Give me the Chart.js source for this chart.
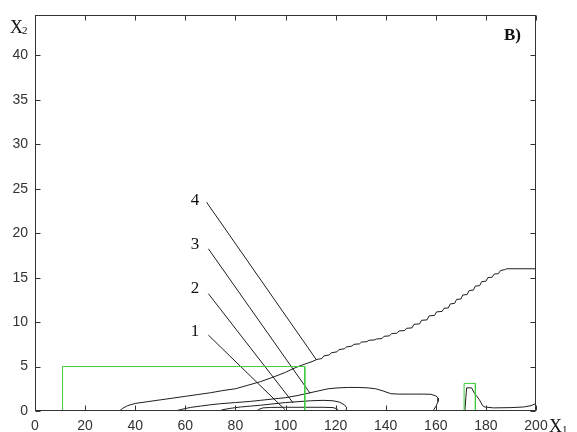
<!DOCTYPE html>
<html lang="ru">

<head>
    <meta charset="UTF-8">
    <title>Contours</title>
    <script src="https://cdn.jsdelivr.net/npm/chart.js"></script>
    <style>
        body { margin: 0; background: #fff; }
        canvas { display: block; }
    </style>
</head>

<body>
    <canvas id="contourChart" width="577" height="432"></canvas>
    <script>
        // tick labels
        const xTicks = [0, 20, 40, 60, 80, 100, 120, 140, 160, 180, 200];
        const yTicks = [0, 5, 10, 15, 20, 25, 30, 35, 40];

        // contour 1 (innermost)
        const c1X = [88.5, 89.5, 91, 94, 100, 108, 115, 119, 120.5, 121];
        const c1Y = [0, 0.2, 0.35, 0.4, 0.42, 0.42, 0.42, 0.38, 0.25, 0];

        // contour 2
        const c2X = [73.5, 75, 78, 82, 86, 90, 95, 100, 105, 110, 115, 119, 121.5, 123.5, 124.5, 124];
        const c2Y = [0, 0.15, 0.3, 0.45, 0.55, 0.65, 0.8, 0.95, 1.05, 1.15, 1.2, 1.15, 1.0, 0.7, 0.35, 0];

        // contour 3
        const c3X = [56, 58, 62, 66, 70, 74, 80, 86, 90, 95, 100, 105, 109, 113, 117, 121, 125, 129, 133, 136, 139, 142, 145, 150, 155, 158, 160, 161, 160.9, 160.2, 159.2, 158.8];
        const c3Y = [0, 0.15, 0.4, 0.55, 0.7, 0.82, 0.95, 1.08, 1.2, 1.35, 1.5, 1.75, 2.0, 2.25, 2.5, 2.6, 2.65, 2.65, 2.6, 2.5, 2.25, 1.95, 1.9, 1.9, 1.9, 1.88, 1.7, 1.45, 1.07, 0.6, 0.15, 0];

        // contour 4 (outer, stepped edge)
        const c4X = [33.7, 35, 37, 40, 45, 50, 55, 60, 65, 70, 75, 80, 85, 90, 95, 100, 103, 105, 107, 109, 111, 112.5,
            114.5, 115.3, 117.5, 118.3, 120.5, 121.3, 123.5, 124.3, 126.5, 127.3, 129.5, 130.3, 132.5, 133.3, 135.5, 136.3, 138.5,
            139.3, 141.5, 142.3, 144.5, 145.3, 147.5, 148.3, 150.5,
            151.3, 153.5, 154.3, 156.5, 157.3, 159.5, 160.3, 162.5, 163.3,
            165, 165.8, 167.5, 168.3, 170, 170.8, 172.5, 173.3, 175, 175.8, 177.5, 178.3, 180, 180.8, 182.5, 183.3, 185, 185.8, 187.5, 188.3, 200];
        const c4Y = [0, 0.3, 0.6, 0.85, 1.05, 1.25, 1.45, 1.65, 1.85, 2.05, 2.3, 2.5, 2.9, 3.3, 3.8, 4.35, 4.75, 5.0, 5.2, 5.4, 5.6, 5.8,
            5.9, 6.2, 6.3, 6.55, 6.65, 6.9, 7.0, 7.2, 7.3, 7.5, 7.55, 7.75, 7.8, 7.95, 8.0, 8.1, 8.15,
            8.4, 8.45, 8.7, 8.75, 9.0, 9.05, 9.3, 9.35,
            9.75, 9.8, 10.2, 10.25, 10.7, 10.75, 11.15, 11.2, 11.55,
            11.6, 12.05, 12.1, 12.55, 12.6, 13.05, 13.1, 13.55, 13.6, 14.05, 14.1, 14.55, 14.6, 15.0, 15.05, 15.4, 15.45, 15.8, 15.9, 16.0, 16.0];

        // contour near x = 175
        const c5X = [171.6, 172, 172.3, 174.3, 175.4, 176.5, 177.4, 178.7, 179.6, 183, 190, 195, 198, 200];
        const c5Y = [0, 1.5, 2.6, 2.6, 2.0, 1.6, 1.27, 0.6, 0.45, 0.35, 0.38, 0.45, 0.6, 0.85];

        // green rectangles
        const g1X = [11, 11, 107.7, 107.7];
        const g1Y = [0, 5, 5, 0];
        const g2X = [171.3, 171.3, 175.8, 175.8];
        const g2Y = [0, 3.1, 3.1, 0];

        // leader lines: [start, end] for labels 1..4
        const leaderNames = ['1', '2', '3', '4'];
        const leaderX = [[69.2, 99.8], [69.2, 103.1], [69.2, 109.8], [68.5, 112.4]];
        const leaderY = [[8.54, 0.15], [13.2, 0.9], [18.25, 2.0], [23.48, 5.74]];

        // helper: zip x and y arrays into points
        function toPoints(xs, ys) {
            return xs.map((x, i) => ({ x: x, y: ys[i] }));
        }

        function lineSet(xs, ys, color) {
            return {
                data: toPoints(xs, ys),
                showLine: true,
                borderColor: color,
                borderWidth: 1,
                pointRadius: 0,
                tension: 0
            };
        }

        const black = '#1e1e1e';
        const green = '#3fcc3f';

        const datasets = [
            lineSet(g1X, g1Y, green),
            lineSet(g2X, g2Y, green),
            lineSet(c1X, c1Y, black),
            lineSet(c2X, c2Y, black),
            lineSet(c3X, c3Y, black),
            lineSet(c4X, c4Y, black),
            lineSet(c5X, c5Y, black)
        ];
        leaderX.forEach((xs, i) => datasets.push(lineSet(xs, leaderY[i], black)));

        // frame, inward ticks and text labels
        const decorations = {
            id: 'decorations',
            afterDraw(chart) {
                const ctx = chart.ctx;
                const area = chart.chartArea;
                const xs = chart.scales.x;
                const ys = chart.scales.y;
                const L = Math.round(area.left) + 0.5;
                const R = Math.round(area.right) - 0.5;
                const T = Math.round(area.top) + 0.5;
                const B = Math.round(area.bottom) - 0.5;

                ctx.save();
                ctx.strokeStyle = '#333';
                ctx.lineWidth = 1;
                ctx.strokeRect(L, T, R - L, B - T);

                ctx.beginPath();
                xTicks.forEach(v => {
                    const px = Math.round(xs.getPixelForValue(v)) + 0.5;
                    ctx.moveTo(px, B); ctx.lineTo(px, B - 5);
                    ctx.moveTo(px, T); ctx.lineTo(px, T + 5);
                });
                yTicks.forEach(v => {
                    const py = Math.round(ys.getPixelForValue(v)) + 0.5;
                    ctx.moveTo(L, py); ctx.lineTo(L + 5, py);
                    ctx.moveTo(R, py); ctx.lineTo(R - 5, py);
                });
                ctx.stroke();

                // curve numbers
                ctx.fillStyle = '#111';
                ctx.font = '17px "Liberation Serif", "DejaVu Serif", serif';
                ctx.textAlign = 'center';
                ctx.textBaseline = 'alphabetic';
                const labelY = [8.43, 13.28, 18.25, 23.2];
                leaderNames.forEach((name, i) => {
                    ctx.fillText(name, xs.getPixelForValue(63.9), ys.getPixelForValue(labelY[i]));
                });

                // panel letter
                ctx.textAlign = 'left';
                ctx.font = 'bold 17px "Liberation Serif", serif';
                ctx.fillText('В)', 504, 40);

                // axis names
                ctx.font = '18px "Liberation Serif", serif';
                ctx.fillText('X', 10, 33);
                ctx.fillText('X', 549, 432);
                ctx.font = '11px "Liberation Serif", serif';
                ctx.fillText('2', 22, 34);
                ctx.fillText('1', 562, 433);
                ctx.restore();
            }
        };

        const tickFont = { family: '"Liberation Sans", Arial, sans-serif', size: 14 };

        new Chart(document.getElementById('contourChart'), {
            type: 'scatter',
            data: { datasets: datasets },
            options: {
                responsive: false,
                animation: false,
                devicePixelRatio: 1,
                layout: { padding: { left: 0, right: 41, top: 14, bottom: 0 } },
                plugins: {
                    legend: { display: false },
                    tooltip: { enabled: false }
                },
                scales: {
                    x: {
                        type: 'linear',
                        min: 0,
                        max: 200,
                        afterBuildTicks: s => { s.ticks = xTicks.map(v => ({ value: v })); },
                        afterFit: s => { s.height = 21; },
                        grid: { display: false, drawTicks: false },
                        border: { display: false },
                        ticks: { color: '#333', font: tickFont, padding: 7, maxRotation: 0, autoSkip: false }
                    },
                    y: {
                        type: 'linear',
                        min: 0,
                        max: 44.5,
                        afterBuildTicks: s => { s.ticks = yTicks.map(v => ({ value: v })); },
                        afterFit: s => { s.width = 35; },
                        grid: { display: false, drawTicks: false },
                        border: { display: false },
                        ticks: { color: '#333', font: tickFont, padding: 7, autoSkip: false }
                    }
                }
            },
            plugins: [decorations]
        });
    </script>
</body>

</html>
